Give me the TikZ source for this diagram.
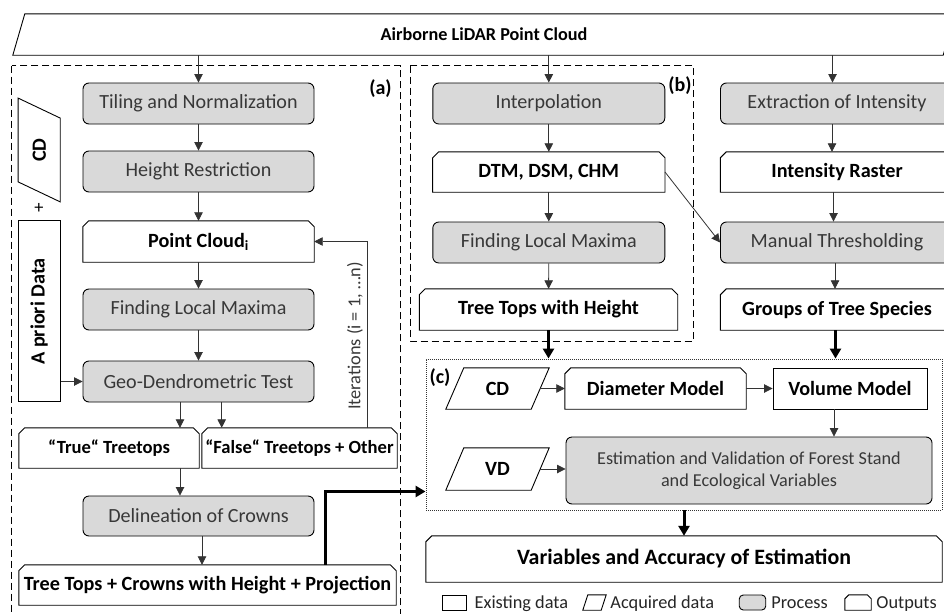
\documentclass[tikz,border=0pt]{standalone}
\usepackage{fontspec}
\setmainfont{Carlito}
\usetikzlibrary{arrows.meta}
\definecolor{procfill}{HTML}{D9D9D9}
\definecolor{proctext}{HTML}{383838}
\definecolor{linec}{HTML}{333333}
\newcommand\myfProc{\fontsize{20.1}{22}\selectfont}
\newcommand\myfOut{\fontsize{20.2}{22}\selectfont\bfseries}
\newcommand\myfQuote{\fontsize{18.6}{22}\selectfont\bfseries}
\newcommand\myfSmall{\fontsize{18.3}{22}\selectfont}
\newcommand\myfBig{\fontsize{21.9}{24}\selectfont\bfseries}
\newcommand\myfLab{\fontsize{20}{22}\selectfont\bfseries}
\begin{document}
\begin{tikzpicture}[x=1pt,y=-1pt,
  wh/.style 2 args={minimum width=#1pt, minimum height=#2pt},
  proc/.style={draw=black, line width=0.9pt, rounded corners=6pt, fill=procfill, text=proctext, font=\myfProc, inner sep=0pt},
  outbox/.style={font=\myfOut, inner sep=0pt},
  exbox/.style={draw=black, line width=0.9pt, font=\myfOut, inner sep=0pt},
  acqbox/.style={font=\myfOut, inner sep=0pt},
  shapeline/.style={draw=black, line width=0.9pt},
  arr/.style={draw=linec, line width=0.8pt, -{Triangle[length=8.5pt,width=8.5pt]}},
  thk/.style={draw=black, line width=3pt, -{Triangle[length=10pt,width=11pt]}},
  lgtext/.style={font=\myfSmall, text=black!85, inner sep=0pt, anchor=base west},
  panel/.style={font=\myfLab, inner sep=0pt}
]
\useasboundingbox (0,0) rectangle (944,613);
\clip (0,0) rectangle (944,613);
\fill[white] (0,0) rectangle (944,613);

% dashed panels
\draw[line width=0.9pt, dash pattern=on 7pt off 4pt] (11.7,65.7) rectangle (400.7,625);
\draw[line width=0.9pt, dash pattern=on 7pt off 4pt] (410,65.5) rectangle (693.7,341);

% top input
\node[acqbox, wh={942}{41}, font=\fontsize{18.2}{22}\selectfont\bfseries] (air) at (484,34.5) {Airborne LiDAR Point Cloud};

% column (a)
\node[proc, wh={231}{41}] (tile) at (198.5,103.5) {Tiling and Normalization};
\node[proc, wh={231}{41}] (hr) at (198.5,171.5) {Height Restriction};
\node[outbox, wh={231}{41}] (pc) at (198.5,241.5) {Point Cloud\textsubscript{i}};
\node[proc, wh={231}{41}] (flm) at (198.5,309.5) {Finding Local Maxima};
\node[proc, wh={231}{41}] (geo) at (198.5,381.5) {Geo-Dendrometric Test};
\node[outbox, wh={180}{40}, font=\myfQuote] (ttrue) at (109,448) {“True“ Treetops};
\node[outbox, wh={195}{40}, font=\myfQuote] (tfalse) at (299.5,448) {“False“ Treetops + Other};
\node[proc, wh={231}{40}] (del) at (198.5,516) {Delineation of Crowns};
\node[outbox, wh={377}{40}] (ttc) at (207.5,585) {Tree Tops + Crowns with Height + Projection};
\node[acqbox, wh={41.7}{103.4}] (cdv) at (39.2,150) {};
\node[acqbox, rotate=90] (cdvt) at (39.2,150) {CD};
\node[font=\myfSmall, inner sep=0pt] (plus) at (39,208) {+};
\node[exbox, wh={41.7}{181}] (apri) at (39.2,311.4) {};
\node[acqbox, rotate=90] (aprit) at (39.2,311.4) {A priori Data};
\node[panel] (la) at (380.5,89) {(a)};

% column (b)
\node[proc, wh={232}{41}] (interp) at (548.8,103.5) {Interpolation};
\node[outbox, wh={232}{40}] (dtm) at (548.8,172) {DTM, DSM, CHM};
\node[proc, wh={232}{41}] (flm2) at (548.8,242.5) {Finding Local Maxima};
\node[outbox, wh={258}{41}] (tth) at (548.5,309.5) {Tree Tops with Height};
\node[panel] (lb) at (680,86) {(b)};

% right column
\node[proc, wh={233}{41}] (ext) at (837,103.5) {Extraction of Intensity};
\node[outbox, wh={233}{40}] (ir) at (837,172) {Intensity Raster};
\node[proc, wh={233}{41}] (man) at (837,242.5) {Manual Thresholding};
\node[outbox, wh={233}{41}] (grp) at (837,309.5) {Groups of Tree Species};

% panel (c)
\node[draw=linec, line width=0.9pt, dash pattern=on 1pt off 1pt, wh={516}{151}] (cbox) at (684,434.5) {};
\node[panel] (lc) at (440,378) {(c)};
\node[acqbox, wh={103}{41}] (cd2) at (497.5,388.5) {CD};
\node[outbox, wh={181}{41}] (dia) at (655.5,388.5) {Diameter Model};
\node[exbox, wh={154}{41}] (vol) at (850,388.5) {Volume Model};
\node[acqbox, wh={103}{42}] (vd) at (497.5,469) {VD};
\node[proc, wh={366}{67}, align=center, font=\fontsize{18.2}{22}\selectfont] (est) at (749,470.5) {Estimation and Validation of Forest Stand\\and Ecological Variables};
\node[outbox, wh={516}{46}, font=\myfBig] (var) at (684,559) {Variables and Accuracy of Estimation};

% legend
\node[draw=black, line width=0.9pt, wh={24}{15}, inner sep=0pt] (lg1) at (454,602.5) {};
\node[lgtext] (lg1t) at ([xshift=8pt,yshift=-5.5pt]lg1.east) {Existing data};
\node[wh={23}{15}, inner sep=0pt] (lg2) at (594.5,602.5) {};
\node[lgtext] (lg2t) at ([xshift=4pt,yshift=-5.5pt]lg2.east) {Acquired data};
\node[draw=black, line width=0.9pt, fill=procfill, rounded corners=4pt, wh={26.5}{15}, inner sep=0pt] (lg3) at (752.5,602.5) {};
\node[lgtext] (lg3t) at ([xshift=5pt,yshift=-5.5pt]lg3.east) {Process};
\node[wh={26}{15}, inner sep=0pt] (lg4) at (858,602.5) {};
\node[lgtext] (lg4t) at ([xshift=5pt,yshift=-5.5pt]lg4.east) {Outputs};

% parallelogram outlines
\draw[shapeline] ([xshift=12pt]air.north west) -- (air.north east) -- ([xshift=-12pt]air.south east) -- (air.south west) -- cycle;
\draw[shapeline] (cdv.north west) -- ([yshift=-20pt]cdv.north east) -- (cdv.south east) -- ([yshift=20pt]cdv.south west) -- cycle;
\foreach \n in {cd2,vd}
  \draw[shapeline] ([xshift=18pt]\n.north west) -- (\n.north east) -- ([xshift=-18pt]\n.south east) -- (\n.south west) -- cycle;
\draw[shapeline] ([xshift=5pt]lg2.north west) -- (lg2.north east) -- ([xshift=-5pt]lg2.south east) -- (lg2.south west) -- cycle;

% output outlines (chamfered top corners)
\foreach \n in {pc,ttrue,tfalse,ttc,dtm,tth,ir,grp,dia,var}
  \draw[shapeline] ([yshift=-6pt]\n.north west) -- ([xshift=6pt]\n.north west) -- ([xshift=-6pt]\n.north east) -- ([yshift=-6pt]\n.north east) -- (\n.south east) -- (\n.south west) -- cycle;
\draw[shapeline] ([yshift=-4pt]lg4.north west) -- ([xshift=4pt]lg4.north west) -- ([xshift=-4pt]lg4.north east) -- ([yshift=-4pt]lg4.north east) -- (lg4.south east) -- (lg4.south west) -- cycle;

% connectors (a)
\draw[arr] (air.south -| tile.north) -- (tile.north);
\draw[arr] (tile) -- (hr);
\draw[arr] (hr) -- (pc);
\draw[arr] (pc) -- (flm);
\draw[arr] (flm) -- (geo);
\coordinate (ga) at ([xshift=-18.5pt]geo.south);
\coordinate (gb) at ([xshift=23.2pt]geo.south);
\draw[arr] (ga) -- (ga |- ttrue.north);
\draw[arr] (gb) -- (gb |- tfalse.north);
\coordinate (ta) at ([xshift=71pt]ttrue.south);
\draw[arr] (ta) -- (ta |- del.north);
\coordinate (da) at ([xshift=3.5pt]del.south);
\draw[arr] (da) -- (da |- ttc.north);
\draw[arr] (apri.east |- geo.west) -- (geo.west);
\draw[arr] ([xshift=68.2pt]tfalse.north) |- (pc.east);
\node[font=\myfSmall, text=proctext, rotate=90, inner sep=0pt] (iter) at (355,336) {Iterations (i = 1, …n)};

% connectors (b)
\draw[arr] (air.south -| interp.north) -- (interp.north);
\draw[arr] (interp) -- (dtm);
\draw[arr] (dtm) -- (flm2);
\draw[arr] (flm2) -- (tth);
\draw[arr] (dtm.east) -- (man.west);

% connectors right column
\coordinate (ea) at ([xshift=-4.5pt]ext.north);
\draw[arr] (ea |- air.south) -- (ea);
\coordinate (eb) at ([xshift=-5pt]ext.south);
\draw[arr] (eb) -- (eb |- ir.north);
\coordinate (ec) at ([xshift=-3.5pt]ir.south);
\draw[arr] (ec) -- (ec |- man.north);
\coordinate (ed) at ([xshift=-2pt]man.south);
\draw[arr] (ed) -- (ed |- grp.north);

% thick connectors
\draw[thk] (tth.south) -- (tth.south |- cbox.north);
\coordinate (gq) at ([xshift=-1.5pt]grp.south);
\draw[thk] (gq) -- (gq |- cbox.north);
\draw[thk] ([xshift=117.5pt]ttc.north) |- ([yshift=-57pt]cbox.west);
\draw[thk] (cbox.south) -- (var.north);

% connectors (c)
\draw[arr] ([xshift=-9pt]cd2.east) -- (dia.west);
\draw[arr] (dia) -- (vol);
\coordinate (va) at ([xshift=-16pt]vol.south);
\draw[arr] (va) -- (va |- est.north);
\draw[arr] ([xshift=-9pt]vd.east) -- (vd.east -| est.west);
\end{tikzpicture}
\end{document}
